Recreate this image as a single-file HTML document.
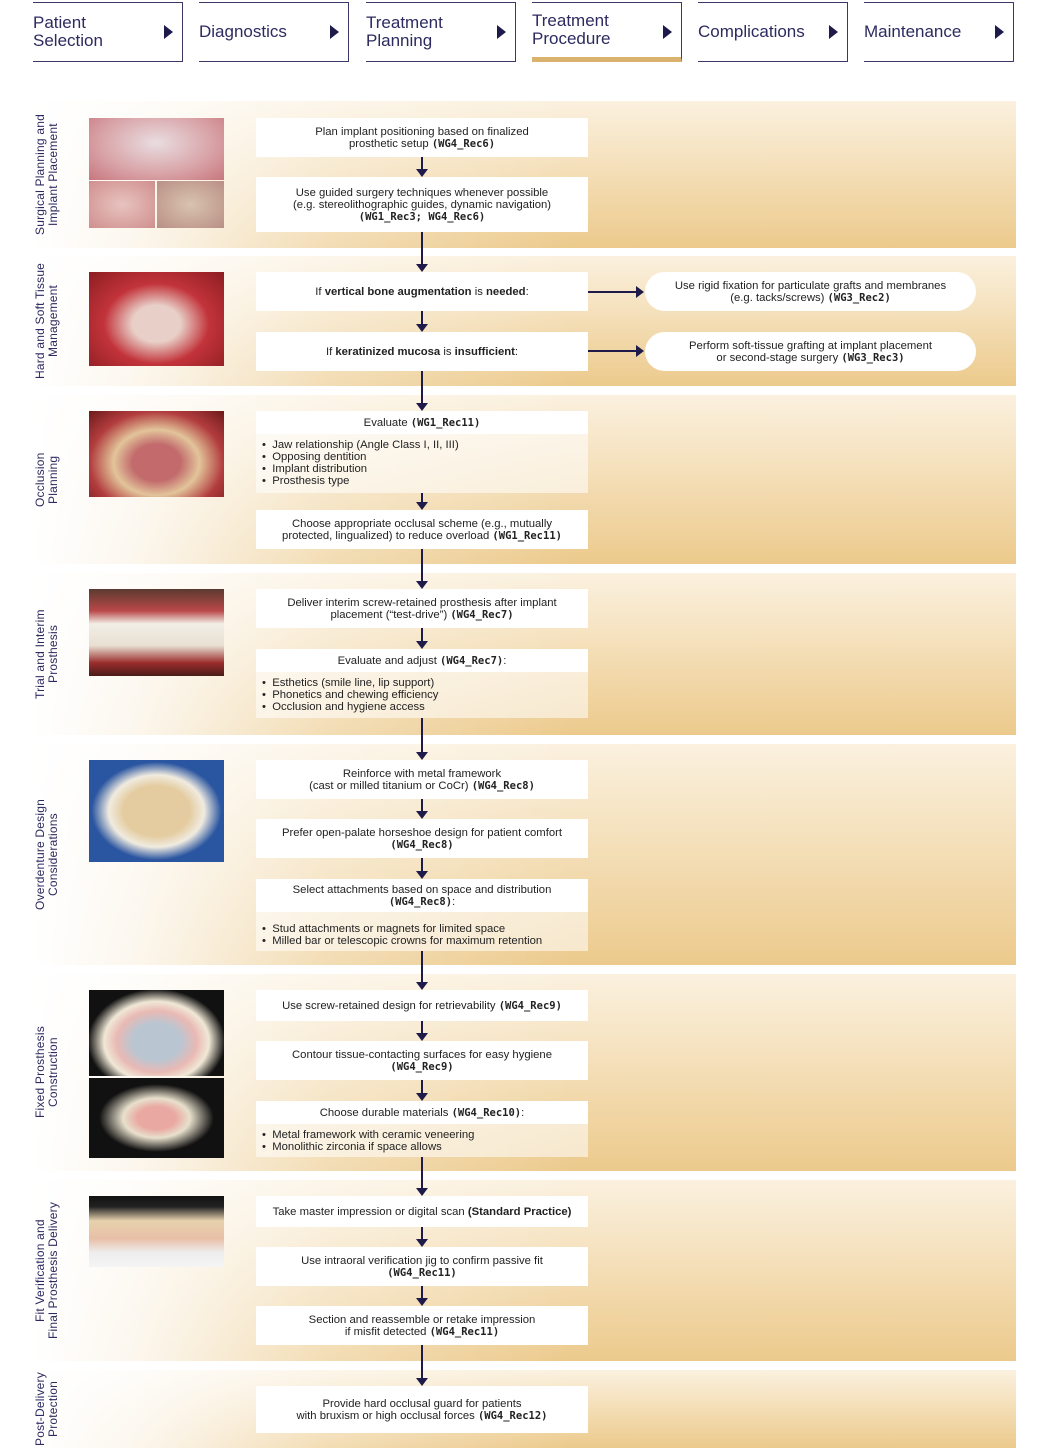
<!DOCTYPE html>
<html><head><meta charset="utf-8"><style>
*{margin:0;padding:0;box-sizing:border-box}
body{width:1050px;height:1452px;background:#fff;position:relative;overflow:hidden;font-family:"Liberation Sans",sans-serif;color:#222}
.tab{position:absolute;top:2px;height:60px;width:150px;border-top:1.5px solid #3b3868;border-right:1.5px solid #3b3868;border-bottom:1.5px solid #3b3868;color:#2d2a5f;font-size:17px;line-height:18px;display:flex;align-items:center}
.tab span{display:block}
.tab:after{content:"";position:absolute;right:9px;top:22px;border-left:9px solid #1e1b4b;border-top:7px solid transparent;border-bottom:7px solid transparent}
.tab.act{border-bottom:5px solid #d9b26e}
.band{position:absolute;left:33px;width:983px;background:linear-gradient(to bottom,#fbf1df,#ecca8c)}
.band:before{content:"";position:absolute;inset:0;background:linear-gradient(to right,#fff 0%,rgba(255,255,255,.85) 10%,rgba(255,255,255,.35) 30%,rgba(255,255,255,0) 55%)}
.lab{position:absolute;left:34px;width:30px;writing-mode:vertical-rl;transform:rotate(180deg);font-size:12px;line-height:13px;color:#2d2a5f;text-align:center;display:flex;justify-content:center;letter-spacing:.2px}
.ph{position:absolute;left:89px;width:135px}
.bx{position:absolute;left:256px;width:332px;background:#fff;font-size:11.3px;line-height:12px;text-align:center;display:flex;align-items:center;justify-content:center;color:#222}
.bx p,.pill p{display:block;width:100%}
.lst{position:absolute;left:256px;width:332px;background:rgba(255,255,255,.55);font-size:11.3px;line-height:12px;padding:5px 0 0 6px}
.pill{position:absolute;left:645px;width:331px;background:#fff;border-radius:20px;font-size:11.3px;line-height:12px;text-align:center;display:flex;align-items:center;justify-content:center}
b{font-family:"DejaVu Sans Mono","Liberation Mono",monospace;font-weight:bold;font-size:10.5px}
.v{position:absolute;left:421px;width:1.5px;background:#1e1b4b}
.ah{position:absolute;width:0;height:0;border-left:6px solid transparent;border-right:6px solid transparent;border-top:8px solid #1e1b4b}
.h{position:absolute;height:1.5px;background:#1e1b4b}
.ar{position:absolute;border-left:8px solid #1e1b4b;border-top:6px solid transparent;border-bottom:6px solid transparent}
</style></head><body>
<div class="tab" style="left:33px"><span>Patient<br>Selection</span></div>
<div class="tab" style="left:199px"><span>Diagnostics</span></div>
<div class="tab" style="left:366px"><span>Treatment<br>Planning</span></div>
<div class="tab act" style="left:532px"><span>Treatment<br>Procedure</span></div>
<div class="tab" style="left:698px"><span>Complications</span></div>
<div class="tab" style="left:864px"><span>Maintenance</span></div>

<div class="band" style="top:101px;height:147px"></div>
<div class="band" style="top:256px;height:130px"></div>
<div class="band" style="top:395px;height:169px"></div>
<div class="band" style="top:573px;height:162px"></div>
<div class="band" style="top:744px;height:221px"></div>
<div class="band" style="top:974px;height:197px"></div>
<div class="band" style="top:1180px;height:181px"></div>
<div class="band" style="top:1370px;height:78px"></div>

<div class="lab" style="top:101px;height:147px">Surgical Planning and<br>Implant Placement</div>
<div class="lab" style="top:256px;height:130px">Hard and Soft Tissue<br>Management</div>
<div class="lab" style="top:395px;height:169px">Occlusion<br>Planning</div>
<div class="lab" style="top:573px;height:162px">Trial and Interim<br>Prosthesis</div>
<div class="lab" style="top:744px;height:221px">Overdenture Design<br>Considerations</div>
<div class="lab" style="top:974px;height:197px">Fixed Prosthesis<br>Construction</div>
<div class="lab" style="top:1180px;height:181px">Fit Verification and<br>Final Prosthesis Delivery</div>
<div class="lab" style="top:1370px;height:78px">Post-Delivery<br>Protection</div>

<div class="ph" style="top:118px;height:62px;background:radial-gradient(ellipse at 50% 40%,#e9dde0,#d8a2a6 60%,#c7777d)"></div>
<div class="ph" style="top:181px;height:47px;width:66px;background:radial-gradient(#e8c3c0,#cf8f8e)"></div>
<div class="ph" style="top:181px;height:47px;left:157px;width:67px;background:radial-gradient(#d9c3b0,#b98f85)"></div>
<div class="ph" style="top:272px;height:94px;background:radial-gradient(ellipse at 50% 55%,#e8d0c8 25%,#c2333a 55%,#8c1d22)"></div>
<div class="ph" style="top:411px;height:86px;background:radial-gradient(ellipse at 50% 60%,#c26a6c 25%,#e2c49a 45%,#b23c3e 70%,#6d1a1a)"></div>
<div class="ph" style="top:589px;height:87px;background:linear-gradient(#5a3a30 0%,#b94848 25%,#f2eee6 40%,#e8e0d2 65%,#9a2c2c 85%,#4a1c18)"></div>
<div class="ph" style="top:760px;height:102px;background:radial-gradient(ellipse at 50% 50%,#e4cca0 35%,#f0ebe0 50%,#2a55a0 68%)"></div>
<div class="ph" style="top:990px;height:86px;background:radial-gradient(ellipse at 50% 60%,#b9c6d2 25%,#e9b9b4 42%,#f0e8d6 55%,#111 72%)"></div>
<div class="ph" style="top:1078px;height:80px;background:radial-gradient(ellipse at 50% 50%,#e9a9a2 20%,#e8e0cc 35%,#111 60%)"></div>
<div class="ph" style="top:1196px;height:71px;background:linear-gradient(#111 0%,#222 15%,#e7d2ad 35%,#e8bfa8 60%,#eee 80%,#f4f4f4)"></div>

<div class="bx" style="top:118px;height:39px"><p>Plan implant positioning based on finalized<br>prosthetic setup <b>(WG4_Rec6)</b></p></div>
<div class="bx" style="top:177px;height:55px"><p>Use guided surgery techniques whenever possible<br>(e.g. stereolithographic guides, dynamic navigation)<br><b>(WG1_Rec3; WG4_Rec6)</b></p></div>
<div class="bx" style="top:272px;height:39px"><p>If <strong>vertical bone augmentation</strong> is <strong>needed</strong>:</p></div>
<div class="bx" style="top:332px;height:39px"><p>If <strong>keratinized mucosa</strong> is <strong>insufficient</strong>:</p></div>
<div class="pill" style="top:272px;height:39px"><p>Use rigid fixation for particulate grafts and membranes<br>(e.g. tacks/screws) <b>(WG3_Rec2)</b></p></div>
<div class="pill" style="top:332px;height:39px"><p>Perform soft-tissue grafting at implant placement<br>or second-stage surgery <b>(WG3_Rec3)</b></p></div>
<div class="h" style="left:588px;top:291px;width:50px"></div><div class="ar" style="left:636px;top:286px"></div>
<div class="h" style="left:588px;top:350px;width:50px"></div><div class="ar" style="left:636px;top:345px"></div>
<div class="bx" style="top:411px;height:23px"><p>Evaluate <b>(WG1_Rec11)</b></p></div>
<div class="lst" style="top:434px;height:59px">•&nbsp; Jaw relationship (Angle Class I, II, III)<br>•&nbsp; Opposing dentition<br>•&nbsp; Implant distribution<br>•&nbsp; Prosthesis type</div>
<div class="bx" style="top:510px;height:39px"><p>Choose appropriate occlusal scheme (e.g., mutually<br>protected, lingualized) to reduce overload <b>(WG1_Rec11)</b></p></div>
<div class="bx" style="top:589px;height:39px"><p>Deliver interim screw-retained prosthesis after implant<br>placement (“test-drive”) <b>(WG4_Rec7)</b></p></div>
<div class="bx" style="top:649px;height:23px"><p>Evaluate and adjust <b>(WG4_Rec7)</b>:</p></div>
<div class="lst" style="top:672px;height:46px">•&nbsp; Esthetics (smile line, lip support)<br>•&nbsp; Phonetics and chewing efficiency<br>•&nbsp; Occlusion and hygiene access</div>
<div class="bx" style="top:760px;height:39px"><p>Reinforce with metal framework<br>(cast or milled titanium or CoCr) <b>(WG4_Rec8)</b></p></div>
<div class="bx" style="top:819px;height:39px"><p>Prefer open-palate horseshoe design for patient comfort<br><b>(WG4_Rec8)</b></p></div>
<div class="bx" style="top:879px;height:33px"><p>Select attachments based on space and distribution<br><b>(WG4_Rec8)</b>:</p></div>
<div class="lst" style="top:912px;height:39px;padding-top:11px">•&nbsp; Stud attachments or magnets for limited space<br>•&nbsp; Milled bar or telescopic crowns for maximum retention</div>
<div class="bx" style="top:990px;height:31px"><p>Use screw-retained design for retrievability <b>(WG4_Rec9)</b></p></div>
<div class="bx" style="top:1041px;height:39px"><p>Contour tissue-contacting surfaces for easy hygiene<br><b>(WG4_Rec9)</b></p></div>
<div class="bx" style="top:1101px;height:23px"><p>Choose durable materials <b>(WG4_Rec10)</b>:</p></div>
<div class="lst" style="top:1124px;height:33px;padding-top:5px">•&nbsp; Metal framework with ceramic veneering<br>•&nbsp; Monolithic zirconia if space allows</div>
<div class="bx" style="top:1196px;height:31px"><p>Take master impression or digital scan <strong>(Standard Practice)</strong></p></div>
<div class="bx" style="top:1247px;height:39px"><p>Use intraoral verification jig to confirm passive fit<br><b>(WG4_Rec11)</b></p></div>
<div class="bx" style="top:1306px;height:39px"><p>Section and reassemble or retake impression<br>if misfit detected <b>(WG4_Rec11)</b></p></div>
<div class="bx" style="top:1386px;height:47px"><p>Provide hard occlusal guard for patients<br>with bruxism or high occlusal forces <b>(WG4_Rec12)</b></p></div>

<div class="v" style="top:157px;height:14px"></div><div class="ah" style="left:416px;top:169px"></div>
<div class="v" style="top:232px;height:34px"></div><div class="ah" style="left:416px;top:264px"></div>
<div class="v" style="top:311px;height:15px"></div><div class="ah" style="left:416px;top:324px"></div>
<div class="v" style="top:371px;height:34px"></div><div class="ah" style="left:416px;top:403px"></div>
<div class="v" style="top:493px;height:11px"></div><div class="ah" style="left:416px;top:502px"></div>
<div class="v" style="top:549px;height:34px"></div><div class="ah" style="left:416px;top:581px"></div>
<div class="v" style="top:628px;height:15px"></div><div class="ah" style="left:416px;top:641px"></div>
<div class="v" style="top:718px;height:36px"></div><div class="ah" style="left:416px;top:752px"></div>
<div class="v" style="top:799px;height:14px"></div><div class="ah" style="left:416px;top:811px"></div>
<div class="v" style="top:858px;height:15px"></div><div class="ah" style="left:416px;top:871px"></div>
<div class="v" style="top:951px;height:33px"></div><div class="ah" style="left:416px;top:982px"></div>
<div class="v" style="top:1021px;height:14px"></div><div class="ah" style="left:416px;top:1033px"></div>
<div class="v" style="top:1080px;height:15px"></div><div class="ah" style="left:416px;top:1093px"></div>
<div class="v" style="top:1157px;height:33px"></div><div class="ah" style="left:416px;top:1188px"></div>
<div class="v" style="top:1227px;height:14px"></div><div class="ah" style="left:416px;top:1239px"></div>
<div class="v" style="top:1286px;height:14px"></div><div class="ah" style="left:416px;top:1298px"></div>
<div class="v" style="top:1345px;height:35px"></div><div class="ah" style="left:416px;top:1378px"></div>
</body></html>
